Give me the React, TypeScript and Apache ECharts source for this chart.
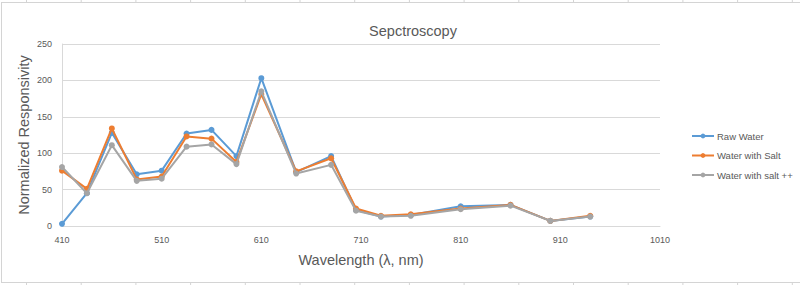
import React, { useEffect, useRef } from "react";
import * as echarts from "echarts";

const wavelengths = [410, 435, 460, 485, 510, 535, 560, 585, 610, 645, 680, 705, 730, 760, 810, 860, 900, 940];
const rawWater = [3, 45, 128, 71, 76, 127, 132, 96, 203, 74, 96, 22, 13, 15, 27, 29, 7, 13];
const waterSalt = [76, 51, 134, 64, 68, 123, 120, 88, 181, 75, 93, 24, 14, 16, 24, 29, 7, 14];
const waterSaltPlus = [81, 45, 111, 62, 65, 109, 112, 85, 185, 72, 84, 21, 13, 14, 23, 28, 7, 13];
const seriesNames = ["Raw Water", "Water with Salt", "Water with salt ++"];
const seriesColors = ["#5B9BD5", "#ED7D31", "#A5A5A5"];

const FONT = "Liberation Sans, Arial, sans-serif";
const TEXT = "#595959";
const GRID = "#d9d9d9";
const CELL = "#d4d4d4";

export default function App() {
  const ref = useRef<HTMLDivElement>(null);
  useEffect(() => {
    if (!ref.current) return;
    const chart = echarts.init(ref.current, undefined, { renderer: "svg" });
    const allData = [rawWater, waterSalt, waterSaltPlus];
    const cellLines: any[] = [];
    for (let x = 26.5; x < 800; x += 54.7) {
      cellLines.push({ type: "line", shape: { x1: x, y1: 0, x2: x, y2: 2 }, style: { stroke: CELL, lineWidth: 1 }, silent: true });
      cellLines.push({ type: "line", shape: { x1: x, y1: 283, x2: x, y2: 285 }, style: { stroke: CELL, lineWidth: 1 }, silent: true });
    }
    chart.setOption({
      animation: false,
      backgroundColor: "#ffffff",
      textStyle: { fontFamily: FONT },
      title: {
        text: "Sepctroscopy",
        left: 408,
        top: 18,
        textAlign: "center",
        textStyle: { fontFamily: FONT, fontSize: 14.5, fontWeight: "normal", color: TEXT },
      },
      graphic: [
        ...cellLines,
        { type: "line", shape: { x1: 1, y1: 2.5, x2: 800, y2: 2.5 }, style: { stroke: CELL, lineWidth: 1 }, silent: true },
        { type: "line", shape: { x1: 1.5, y1: 2.5, x2: 1.5, y2: 282.5 }, style: { stroke: CELL, lineWidth: 1 }, silent: true },
        { type: "line", shape: { x1: 1, y1: 282.5, x2: 800, y2: 282.5 }, style: { stroke: CELL, lineWidth: 1 }, silent: true },
      ],
      legend: {
        orient: "vertical",
        left: 686,
        top: 126,
        itemWidth: 22,
        itemHeight: 6,
        itemGap: 9.5,
        data: seriesNames,
        textStyle: { fontFamily: FONT, fontSize: 9.5, color: TEXT, padding: [0, 0, 0, -2] },
      },
      grid: { left: 62, right: 140, top: 44, bottom: 59, containLabel: false },
      xAxis: {
        type: "value",
        min: 410,
        max: 1010,
        interval: 100,
        name: "Wavelength (λ, nm)",
        nameLocation: "middle",
        nameGap: 26,
        nameTextStyle: { fontFamily: FONT, fontSize: 14.5, color: TEXT },
        axisLine: { show: true, lineStyle: { color: GRID, width: 1 } },
        axisTick: { show: false },
        splitLine: { show: false },
        axisLabel: { fontFamily: FONT, fontSize: 9, color: TEXT, margin: 9, formatter: (v: number) => String(v) },
      },
      yAxis: {
        type: "value",
        min: 0,
        max: 250,
        interval: 50,
        name: "Normalized Responsivity",
        nameLocation: "middle",
        nameGap: 31,
        nameMoveOverlap: false,
        nameTextStyle: { fontFamily: FONT, fontSize: 14.5, color: TEXT },
        axisLine: { show: true, lineStyle: { color: GRID, width: 1 } },
        axisTick: { show: false },
        splitLine: { show: true, lineStyle: { color: GRID, width: 1 } },
        axisLabel: { fontFamily: FONT, fontSize: 9, color: TEXT, margin: 10 },
      },
      series: seriesNames.map((name, i) => ({
        name,
        type: "line",
        data: wavelengths.map((w, j) => [w, allData[i][j]]),
        symbol: "circle",
        symbolSize: 6,
        showSymbol: true,
        color: seriesColors[i],
        lineStyle: { width: 2, color: seriesColors[i] },
        itemStyle: { color: seriesColors[i] },
        z: 2 + i,
      })),
    });
    return () => chart.dispose();
  }, []);
  return <div ref={ref} style={{ position: "fixed", left: 0, top: 0, width: 800, height: 285 }} />;
}
